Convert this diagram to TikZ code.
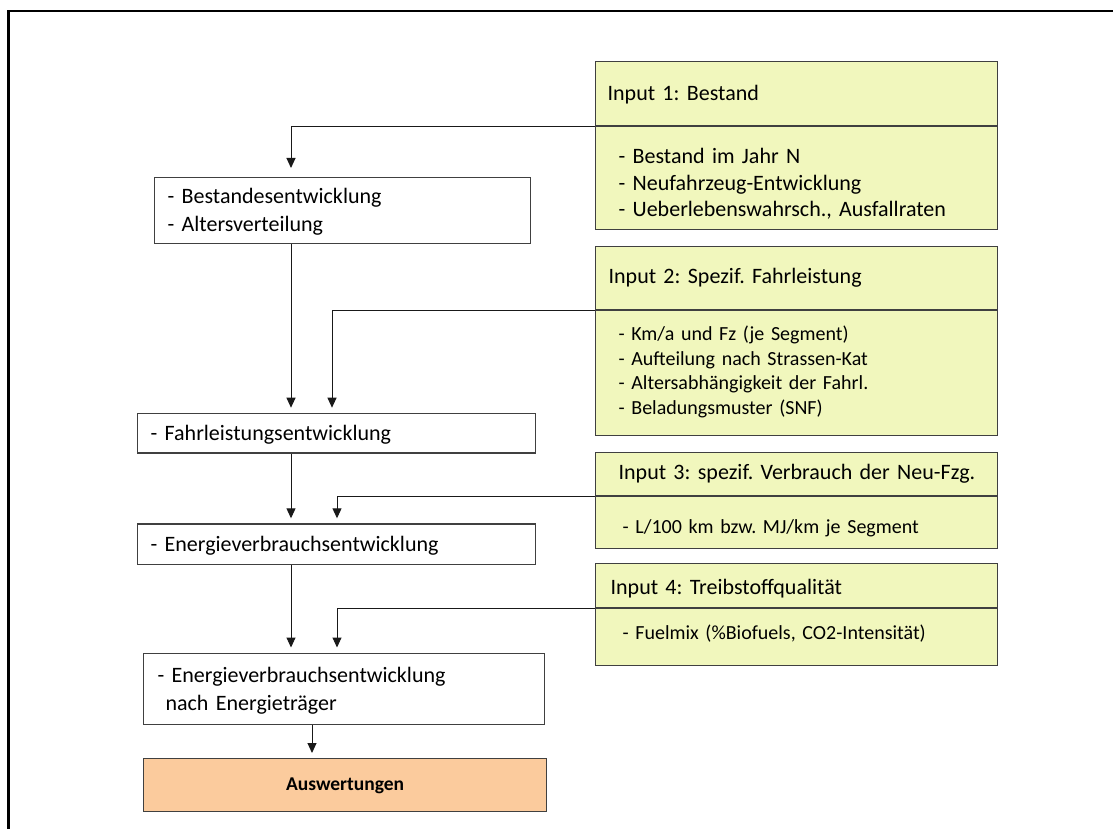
\documentclass[tikz,border=0pt]{standalone}
\usepackage{fontspec}
\setmainfont{Carlito}
\usetikzlibrary{positioning}
\usetikzlibrary{arrows.meta}

\definecolor{inputgelb}{RGB}{241,247,189}
\definecolor{auswertorange}{RGB}{251,203,157}
\definecolor{rahmengrau}{RGB}{64,64,64}

\newcommand{\grosstext}{\fontsize{22}{26.7}\selectfont}
\newcommand{\kleintext}{\fontsize{20}{24.4}\selectfont}

\begin{document}
\frenchspacing
\begin{tikzpicture}[x=1pt, y=-1pt, input/.style={draw=rahmengrau, line width=1.2pt, fill=inputgelb, inner ysep=0pt, align=left, font=\grosstext}, schritt/.style={draw=rahmengrau, line width=1.2pt, fill=white, anchor=north west, inner ysep=0pt, align=left, font=\grosstext}, ergebnis/.style={draw=rahmengrau, line width=1.2pt, fill=auswertorange, anchor=north west, inner ysep=0pt, align=center, font=\bfseries\fontsize{19.5}{23}\selectfont}]
\tikzstyle{pfeil}=[->, line width=1pt, black!90, shorten >=5pt]
\tikzset {>={Triangle[length=10pt,width=9pt]}}

\useasboundingbox (0,0) rectangle (1113,829);
\draw [line width=2.5pt] (8.7,829) -- (8.7,11) -- (1113,11);

% inputs rechts
\node (in1t) [input, anchor=north west, inner xsep=12.5pt, text width=377.5pt, text height=39pt, text depth=25pt] at (594.5,61) {Input 1: Bestand};
\node (in1b) [input, below=0pt of in1t, inner xsep=23.5pt, text width=355.5pt, text height=36.7pt, text depth=66.3pt] {- Bestand im Jahr N\\- Neufahrzeug-Entwicklung\\- Ueberlebenswahrsch., Ausfallraten};
\node (in2t) [input, anchor=north west, inner xsep=13.5pt, text width=375.5pt, text height=37pt, text depth=26pt] at (594.5,246) {Input 2: Spezif. Fahrleistung};
\node (in2b) [input, below=0pt of in2t, font=\kleintext, inner xsep=23.5pt, text width=355.5pt, text height=30pt, text depth=95pt] {- Km/a und Fz (je Segment)\\- Aufteilung nach Strassen-Kat\\- Altersabhängigkeit der Fahrl.\\- Beladungsmuster (SNF)};
\node (in3t) [input, anchor=north west, inner xsep=12.5pt, text width=377.5pt, text height=27pt, text depth=16pt] at (594.5,452) {\hspace*{11pt}Input 3: spezif. Verbrauch der Neu-Fzg.};
\node (in3b) [input, below=0pt of in3t, font=\kleintext, inner xsep=27.5pt, text width=347.5pt, text height=37pt, text depth=15pt] {- L/100 km bzw. MJ/km je Segment};
\node (in4t) [input, anchor=north west, inner xsep=15.5pt, text width=371.5pt, text height=31pt, text depth=13pt] at (594.5,563) {Input 4: Treibstoffqualität};
\node (in4b) [input, below=0pt of in4t, font=\kleintext, inner xsep=27.5pt, text width=347.5pt, text height=31pt, text depth=26pt] {- Fuelmix (\%Biofuels, CO2-Intensität)};

% hauptstrang links
\node (b1) [schritt, font=\fontsize{22}{28.3}\selectfont, inner xsep=13pt, text width=350pt, text height=25.7pt, text depth=40.3pt] at (154,177) {- Bestandesentwicklung\\- Altersverteilung};
\node (fl) [schritt, inner xsep=13pt, text width=372pt, text height=26.8pt, text depth=12.8pt] at (137,412.7) {- Fahrleistungsentwicklung};
\node (ev) [schritt, inner xsep=13pt, text width=372pt, text height=27.4pt, text depth=13.3pt] at (137,523.3) {- Energieverbrauchsentwicklung};
\node (en) [schritt, font=\fontsize{22}{28}\selectfont, inner xsep=14pt, text width=373pt, text height=29.5pt, text depth=42pt] at (143,652.5) {- Energieverbrauchsentwicklung\\\hspace*{8pt}nach Energieträger};
\node (ae) [ergebnis, inner xsep=10pt, text width=383pt, text height=32pt, text depth=21pt] at (143,758) {Auswertungen};

\coordinate (spalteA) at (291,0);
\coordinate (spalteB) at (332,0);
\coordinate (spalteC) at (337,0);
\coordinate (spalteD) at (312,0);

% zufluesse
\draw [pfeil, shorten >=9pt] (in1t.south west) -| (b1.north -| spalteA);
\draw [pfeil] (in2t.south west) -| (fl.north -| spalteB);
\draw [pfeil] (in3t.south west) -| (ev.north -| spalteC);
\draw [pfeil] (in4t.south west) -| (en.north -| spalteC);

% abfolge
\draw [pfeil] (b1.south -| spalteA) -- (fl.north -| spalteA);
\draw [pfeil] (fl.south -| spalteA) -- (ev.north -| spalteA);
\draw [pfeil] (ev.south -| spalteA) -- (en.north -| spalteA);
\draw [pfeil] (en.south -| spalteD) -- (ae.north -| spalteD);
\end{tikzpicture}
\end{document}
